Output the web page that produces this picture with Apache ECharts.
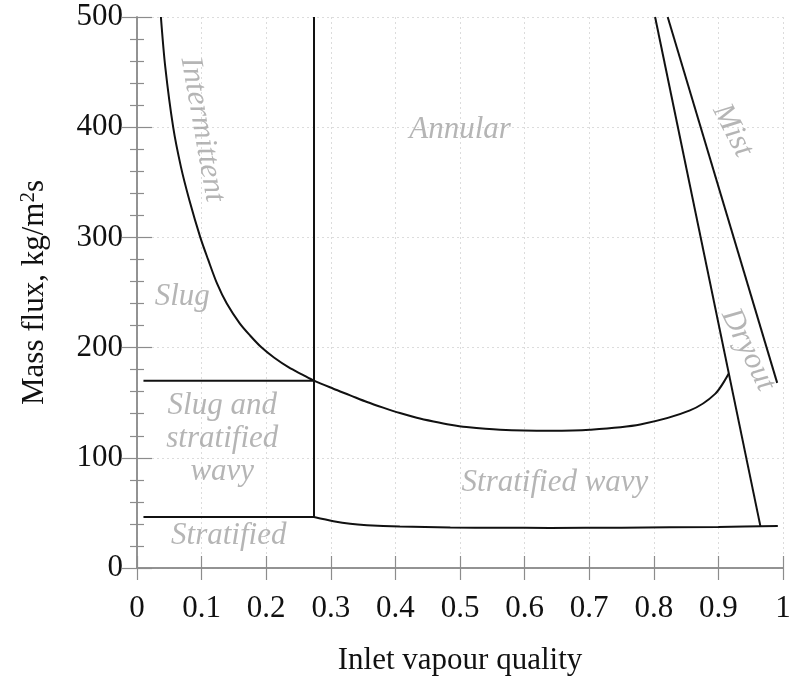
<!DOCTYPE html>
<html>
<head>
<meta charset="utf-8">
<script src="https://cdn.jsdelivr.net/npm/echarts@6/dist/echarts.min.js"></script>
<style>html,body{margin:0;padding:0;background:#fff}#c{width:795px;height:677px}</style>
</head>
<body>
<div id="c"></div>
<script>
// ---- data ----
const xTicks = [0, 0.1, 0.2, 0.3, 0.4, 0.5, 0.6, 0.7, 0.8, 0.9, 1];
const yTicks = [0, 100, 200, 300, 400, 500];
// intermittent/slug -> annular / stratified wavy boundary
const curveUpper = [[0.037,500],[0.0437,455],[0.0560,400],[0.0680,364],[0.0810,334],[0.098,300],[0.110,280],[0.124,258],[0.139,240],[0.159,222],[0.175,211],[0.193,200],[0.212,191],[0.235,182],[0.256,175.5],[0.274,170],[0.304,162.7],[0.330,156.7],[0.356,150.6],[0.381,145.5],[0.407,140.6],[0.433,136.4],[0.459,133],[0.485,130],[0.510,127.9],[0.562,125.5],[0.639,124.6],[0.701,125.5],[0.779,130.3],[0.856,143],[0.895,158],[0.916,176.4]];
// stratified boundary
const curveLower = [[0.274,46.3],[0.304,42.5],[0.330,40.1],[0.356,38.9],[0.407,37.7],[0.485,36.8],[0.562,36.5],[0.639,36.4],[0.750,36.6],[0.900,37.3],[0.992,38]];
const lineSlugTop = [[0.01,170],[0.274,170]];
const lineStratTop = [[0.01,46.3],[0.274,46.3]];
const lineVertical = [[0.274,46.3],[0.274,500]];
const lineDryout = [[0.802,500],[0.965,38]];
const lineMist = [[0.8215,500],[0.991,168]];
// region labels
const labelTexts = ["Intermittent","Annular","Mist","Slug","Slug and\nstratified\nwavy","Dryout","Stratified wavy","Stratified"];
const labelX =     [0.101, 0.50, 0.922, 0.070, 0.132, 0.946, 0.647, 0.142];
const labelY =     [398,   398,  397,   246,   117,   198,   77.7,  29];
const labelRot =   [-80,   0,    -63,   0,     0,     -64,   0,     0];

const chart = echarts.init(document.getElementById('c'), null, {renderer:'canvas'});
const serif = 'Liberation Serif';
const axisGray = '#8c8c8c';
const lineStyle = {color:'#111', width:2};

function lineSeries(data, smooth) {
  return {type:'line', data:data, smooth:smooth||false, symbol:'none', lineStyle:lineStyle, silent:true, animation:false, xAxisIndex:0, yAxisIndex:0};
}

const labelSeries = labelTexts.map((t,i)=>({
  type:'scatter', symbolSize:0, silent:true, animation:false,
  data:[[labelX[i], labelY[i]]],
  label:{show:true, position:'inside', formatter:t, rotate:labelRot[i],
    fontFamily:serif, fontStyle:'italic', fontSize:31, color:'#a3a3a3', lineHeight:33, align:'center', verticalAlign:'middle'}
}));

const option = {
  animation:false,
  backgroundColor:'#fff',
  grid:{left:137, right:12, top:17, bottom:109, containLabel:false, outerBoundsMode:'none'},
  xAxis:[
    {type:'value', min:0, max:1, interval:0.1, position:'bottom',
     name:'Inlet vapour quality', nameLocation:'middle', nameGap:77,
     nameTextStyle:{fontFamily:serif, fontSize:31, color:'#111'},
     axisLine:{show:true, lineStyle:{color:axisGray, width:1.5}},
     axisTick:{show:true, inside:true, length:12, lineStyle:{color:axisGray, width:1.2}},
     axisLabel:{fontFamily:serif, fontSize:31, color:'#111', margin:25, formatter:(v)=>{const i=xTicks.findIndex(t=>Math.abs(t-v)<1e-6); return i>=0? String(xTicks[i]) : '';}},
     splitLine:{show:true, lineStyle:{color:'#dcdcdc', type:[2,3], width:1}}},
    {type:'value', min:0, max:1, interval:0.1, position:'top',
     axisLine:{show:true, lineStyle:{color:axisGray, width:1.5}},
     axisTick:{show:true, inside:true, length:12, lineStyle:{color:axisGray, width:1.2}},
     axisLabel:{show:false}, splitLine:{show:false}}
  ],
  yAxis:[
    {type:'value', min:0, max:500, interval:100, position:'left',
     name:'Mass flux, kg/m{sup|2}s', nameLocation:'middle', nameGap:85, nameRotate:90,
     nameTextStyle:{fontFamily:serif, fontSize:31, color:'#111', lineHeight:34,
       rich:{sup:{fontFamily:serif, fontSize:21, color:'#111', verticalAlign:'top', lineHeight:34, padding:[0,0,12,0]}}},
     axisLine:{show:true, lineStyle:{color:axisGray, width:1.5}},
     axisTick:{show:true, inside:true, length:15, lineStyle:{color:axisGray, width:1.2}},
     minorTick:{show:true, splitNumber:5, length:7, lineStyle:{color:axisGray, width:1.2}},
     axisLabel:{fontFamily:serif, fontSize:31, color:'#111', margin:14, formatter:(v)=>{const i=yTicks.indexOf(v); return i>=0? String(yTicks[i]) : '';}},
     splitLine:{show:true, lineStyle:{color:'#dcdcdc', type:[2,3], width:1}}},
    {type:'value', min:0, max:500, interval:100, position:'right',
     axisLine:{show:true, lineStyle:{color:axisGray, width:1.5}},
     axisTick:{show:true, inside:true, length:15, lineStyle:{color:axisGray, width:1.2}},
     minorTick:{show:true, splitNumber:5, length:7, lineStyle:{color:axisGray, width:1.2}},
     axisLabel:{show:false}, splitLine:{show:false}}
  ],
  series:[
    lineSeries(curveUpper, 0.3),
    lineSeries(curveLower, 0.3),
    lineSeries(lineSlugTop),
    lineSeries(lineStratTop),
    lineSeries(lineVertical),
    lineSeries(lineDryout),
    lineSeries(lineMist)
  ].concat(labelSeries)
};
chart.setOption(option);
</script>
</body>
</html>
